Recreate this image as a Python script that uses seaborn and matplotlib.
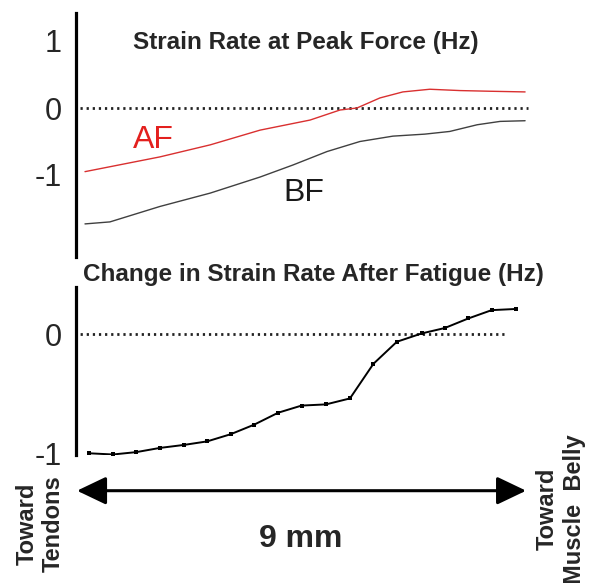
import numpy as np
import pandas as pd
import matplotlib
matplotlib.use("Agg")
import matplotlib.pyplot as plt
import seaborn as sns

# positions along the tendon (mm) and strain rates (Hz)
af_pos = [0.16, 1.66, 2.67, 3.67, 4.67, 5.27, 5.61, 6.07, 6.53, 7.07, 7.68, 8.28, 8.98]
af_rate = [-0.95, -0.73, -0.55, -0.33, -0.18, -0.03, 0.0, 0.15, 0.24, 0.28, 0.26, 0.25, 0.24]

bf_pos = [0.16, 0.66, 1.66, 2.67, 3.67, 4.33, 5.01, 5.67, 6.33, 6.97, 7.47, 8.02, 8.48, 8.98]
bf_rate = [-1.73, -1.70, -1.47, -1.27, -1.03, -0.85, -0.65, -0.50, -0.42, -0.39, -0.35, -0.25, -0.20, -0.19]

chg_pos = [0.25, 0.72, 1.19, 1.66, 2.14, 2.61, 3.08, 3.55, 4.03, 4.50,
           4.99, 5.47, 5.94, 6.41, 6.91, 7.37, 7.84, 8.31, 8.80]
chg_rate = [-1.00, -1.01, -0.99, -0.955, -0.93, -0.90, -0.84, -0.76, -0.66, -0.60,
            -0.59, -0.54, -0.25, -0.065, 0.005, 0.05, 0.13, 0.20, 0.21]

top_ticks = [1, 0, -1]
bottom_ticks = [0, -1]

sns.set_theme(style="white")
plt.rcParams["font.family"] = ["Liberation Sans", "DejaVu Sans"]

W, H = 595, 583
fig = plt.figure(figsize=(W / 100, H / 100), dpi=100)

# pixel helpers for layout
def fx(px):
    return px / W

def fy(px):
    return 1 - px / H

px_per_mm = 49.9
x0_px = 77
xlim = ((76 - x0_px) / px_per_mm, (545 - x0_px) / px_per_mm)

ax_top = fig.add_axes([fx(76), fy(257), fx(545) - fx(76), fy(12.7) - fy(257)])
ax_bot = fig.add_axes([fx(76), fy(455), fx(545) - fx(76), fy(287) - fy(455)])

for ax in (ax_top, ax_bot):
    ax.set_facecolor("none")
    for s in ("top", "right", "bottom"):
        ax.spines[s].set_visible(False)
    ax.spines["left"].set_linewidth(2.3)
    ax.spines["left"].set_color("black")
    ax.set_xlim(*xlim)
    ax.set_xticks([])
    ax.tick_params(axis="y", length=0, pad=10, labelsize=22)
    ax.set_xlabel("")
    ax.set_ylabel("")

dots = (0, (0.8, 1.4))

# top panel
ax_top.set_ylim((108 - 257) / 67, (108 - 12.7) / 67)
ax_top.hlines(0, 0.06, 9.04, colors="#222222", linestyles=dots, lw=2.0)
sns.lineplot(x=af_pos, y=af_rate, ax=ax_top, color="#d93030", lw=1.0)
sns.lineplot(x=bf_pos, y=bf_rate, ax=ax_top, color="#404040", lw=1.0)
ax_top.set_yticks(top_ticks)
ax_top.set_yticklabels([str(t) for t in top_ticks])
ax_top.text(1.12, -0.48, "AF", color="#e3201e", fontsize=23, ha="left", va="center")
ax_top.text(4.13, -1.27, "BF", color="#1a1a1a", fontsize=23, ha="left", va="center")

# bottom panel
ax_bot.set_ylim((334 - 455) / 119.3, (334 - 287) / 119.3)
ax_bot.hlines(0, -0.06, 8.62, colors="#222222", linestyles=dots, lw=2.0)
sns.lineplot(x=chg_pos, y=chg_rate, ax=ax_bot, color="black", lw=1.4,
             marker="s", markersize=3, markeredgewidth=0)
ax_bot.set_yticks(bottom_ticks)
ax_bot.set_yticklabels([str(t) for t in bottom_ticks])

fig.text(fx(306), fy(43), "Strain Rate at Peak Force (Hz)", fontsize=17.5,
         fontweight="bold", ha="center", va="center")
fig.text(fx(313), fy(275), "Change in Strain Rate After Fatigue (Hz)", fontsize=17.5,
         fontweight="bold", ha="center", va="center")

# overlay for the scale arrow and side labels (x in mm, y in pixels)
ax_arr = fig.add_axes([0, 0, 1, 1])
ax_arr.set_axis_off()
ax_arr.set_xlim(-x0_px / px_per_mm, (W - x0_px) / px_per_mm)
ax_arr.set_ylim(H, 0)
ax_arr.annotate("", xy=(9.0, 490.7), xytext=(0.0, 490.7),
                arrowprops=dict(arrowstyle="<|-|>,head_length=0.9,head_width=0.43",
                                mutation_scale=20, lw=2.2, color="black",
                                shrinkA=0, shrinkB=0))
ax_arr.text(4.49, 539, "9 mm", fontsize=23, fontweight="bold", ha="center", va="center")
ax_arr.text(-0.74, 524, "Toward\nTendons", rotation=90, fontsize=17, fontweight="bold",
            ha="center", va="center", multialignment="center")
ax_arr.text(9.70, 509, "Toward\nMuscle  Belly", rotation=90, fontsize=17, fontweight="bold",
            ha="center", va="center", multialignment="center")

fig.savefig("out.png", dpi=100)
